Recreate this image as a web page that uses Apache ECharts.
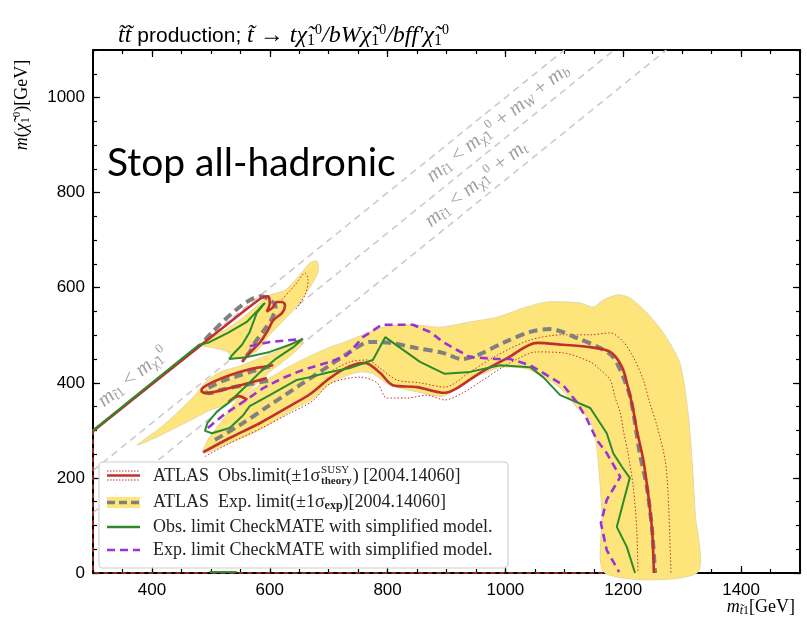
<!DOCTYPE html>
<html>
<head>
<meta charset="utf-8">
<script src="https://cdn.jsdelivr.net/npm/echarts@6/dist/echarts.min.js"></script>
<style>
  html, body { margin: 0; background: #fff; }
  #chart { width: 807px; height: 635px; }
</style>
</head>
<body>
<div id="chart"></div>
<script>
// axis ticks
const xMajor = [400, 600, 800, 1000, 1200, 1400]
const yMajor = [0, 200, 400, 600, 800, 1000]

// kinematic limits: m_stop = m_chi + offset (0, mW+mb, mt)
const kinOffsets = [0, 84.6, 173.1]

// ATLAS expected +-1 sigma band (three pieces)
const expBandMain = [[487,252],[532,273],[583,301],[639,343],[673,366],[702,398],[728,414],[753,423],[775,419],[804,395],[843,383],[894,372],[928,398],[986,431],[1030,431],[1064,414],[1098,383],[1122,347],[1144,320],[1155,265],[1164,126],[1169,0],[1325,0],[1322,126],[1317,231],[1310,337],[1296,442],[1268,505],[1240,547],[1212,578],[1191,585],[1166,574],[1149,559],[1127,568],[1071,570],[1030,557],[986,538],[940,528],[889,517],[843,522],[792,517],[758,501],[728,486],[702,475],[668,456],[634,435],[600,410],[566,381],[541,358],[516,315],[495,280]]
const expBandMid = [[375,269],[414,305],[448,343],[473,374],[490,400],[516,423],[549,435],[583,452],[617,469],[656,494],[651,475],[626,448],[600,423],[575,395],[549,368],[524,353],[499,343],[473,326],[439,305],[405,284]]
const expBandTop = [[482,480],[516,505],[549,532],[580,564],[597,583],[626,595],[651,627],[668,652],[680,656],[682,633],[665,595],[643,557],[621,528],[600,501],[580,469],[566,458],[549,452],[536,452],[529,465],[507,473]]

// ATLAS observed limit
const obsMain = [[487,254],[532,284],[583,315],[634,351],[668,376],[702,410],[736,435],[762,442],[787,421],[809,395],[850,391],[897,379],[918,389],[957,421],[1003,452],[1054,484],[1098,480],[1144,475],[1178,465],[1198,433],[1208,391],[1217,343],[1223,301],[1234,238],[1242,168],[1249,90],[1252,0]]
const obsDiag = [[300,298],[480,476],[585,578],[597,582],[600,568],[595,550],[604,557],[612,570],[621,570],[626,563],[621,547],[606,532],[597,511],[584,486],[566,463],[553,444]]
const obsLoop = [[606,437],[580,432],[561,427],[532,416],[504,402],[487,390],[484,383],[492,378],[510,382],[535,390],[566,400],[595,410]]
const obsPiece = [[530,360],[548,372],[562,364]]
const obsEdge = [[300,300],[300,0],[1170,0]]
// ATLAS observed +-1 sigma theory
const obsUp = [[702,423],[736,444],[765,448],[787,431],[816,406],[855,400],[897,391],[940,423],[986,458],[1042,490],[1098,501],[1144,501],[1178,505],[1200,486],[1217,454],[1234,406],[1245,358],[1257,311],[1271,238],[1276,168],[1279,76],[1281,0]]
const obsUpTop = [[617,570],[643,606],[660,631],[665,616],[660,585],[643,553]]
const obsDown = [[490,245],[532,273],[583,303],[634,336],[673,362],[702,398],[753,412],[782,400],[799,368],[833,368],[867,374],[897,364],[928,379],[957,402],[1008,442],[1054,465],[1098,463],[1144,444],[1161,427],[1178,406],[1186,370],[1195,337],[1200,301],[1208,252],[1217,181],[1223,90],[1225,0]]

// ATLAS expected limit
const expMain = [[507,280],[549,311],[600,353],[651,395],[702,437],[736,465],[770,486],[804,484],[850,473],[894,463],[926,450],[952,458],[996,484],[1042,507],[1076,513],[1122,494],[1161,473],[1183,454],[1200,412],[1212,370],[1220,315],[1228,252],[1240,181],[1249,90],[1254,0]]
const expTop = [[490,490],[585,582],[600,575],[610,560],[604,536],[590,510],[575,485],[566,465],[555,448]]
const expLoop = [[600,434],[570,424],[545,414],[520,404],[500,392],[490,383],[497,378],[520,386],[560,396],[600,405]]

// CheckMATE observed / expected
const cmObs = [[300,300],[480,480],[495,484],[529,505],[561,528],[580,553],[588,564],[592,568],[578,547],[566,507],[553,480],[536,458],[531,450],[561,454],[600,465],[634,480],[656,492],[640,475],[612,452],[584,423],[561,395],[532,360],[510,339],[494,315],[490,299],[502,294],[532,305],[555,332],[566,351],[600,374],[646,406],[668,412],[697,421],[736,431],[775,448],[796,496],[855,444],[897,419],[940,423],[991,437],[1042,433],[1064,412],[1093,374],[1144,347],[1172,294],[1183,252],[1198,223],[1211,200],[1189,97],[1206,55],[1220,0]]
const cmObsLow = [[498,2],[544,2]]
const cmExp = [[495,305],[521,332],[555,360],[589,389],[622,410],[656,427],[702,444],[731,458],[758,496],[790,522],[843,522],[872,507],[894,486],[918,469],[940,454],[986,450],[1008,450],[1042,437],[1076,412],[1098,395],[1122,358],[1139,322],[1155,280],[1172,252],[1195,202],[1172,154],[1162,105],[1172,48],[1193,2]]
const cmExpTop = [[566,477],[600,486],[655,492]]

const RED = '#c0302e'
const GRAY = '#808080'
const GREEN = '#2b8a2b'
const PURPLE = '#9a33d6'
const YELLOW = '#fee57b'

const expBands = [expBandMain, expBandMid, expBandTop]

const chart = echarts.init(document.getElementById('chart'))

const serif = 'Liberation Serif'
const sans = 'Liberation Sans'

const ctx = document.createElement('canvas').getContext('2d')
const tw = (text, font) => { ctx.font = font; return ctx.measureText(text).width }

const tick = (major) => ({ show: true, inside: true, length: major ? 7 : 4, lineStyle: { color: '#000', width: 1.2 } })
const plain = v => String(v)

function xAx (pos, major) {
  const a = {
    type: 'value', position: pos, min: 300, max: 1500,
    axisLine: { show: major, onZero: false, lineStyle: { color: '#000', width: 2 } },
    axisTick: tick(major),
    axisLabel: { show: false },
    splitLine: { show: false }
  }
  if (major) a.axisTick.customValues = xMajor
  else a.interval = 50
  if (major && pos === 'bottom') {
    a.axisLabel = { show: true, customValues: xMajor, formatter: plain, margin: 9, color: '#000', fontFamily: sans, fontSize: 17 }
  }
  return a
}

function yAx (pos, major) {
  const a = {
    type: 'value', position: pos, min: 0, max: 1100,
    axisLine: { show: major, onZero: false, lineStyle: { color: '#000', width: 2 } },
    axisTick: tick(major),
    axisLabel: { show: false },
    splitLine: { show: false }
  }
  if (major) a.axisTick.customValues = yMajor
  else a.interval = 50
  if (major && pos === 'left') {
    a.axisLabel = { show: true, customValues: yMajor, formatter: plain, margin: 8, color: '#000', fontFamily: sans, fontSize: 17 }
  }
  return a
}

const lineSeries = (data, color, width, type, smooth, z) => ({
  type: 'line', data, xAxisIndex: 0, yAxisIndex: 0,
  showSymbol: false, symbol: 'none', smooth: smooth, clip: false, z: z || 3,
  lineStyle: { color, width, type }, silent: true
})

const series = []
kinOffsets.forEach(off => {
  series.push(lineSeries([[300, 300 - off], [1100 + off, 1100]], '#cbcbcb', 1.6, [7, 5], false, 1))
  series[series.length - 1].clip = true
})
series.push({
  type: 'custom', xAxisIndex: 0, yAxisIndex: 0, z: 2, silent: true,
  data: expBands.map(p => p[0]),
  renderItem: (params, api) => ({
    type: 'polygon',
    shape: { points: expBands[params.dataIndex].map(p => api.coord(p)), smooth: 0.25 },
    style: { fill: YELLOW, stroke: '#e4d7a6', lineWidth: 1 }
  })
})
;[obsUp, obsUpTop, obsDown].forEach(d => series.push(lineSeries(d, RED, 1, [1.5, 2], 0.3)))
series.push(lineSeries(obsEdge, RED, 1.5, [5, 4], false))
;[expMain, expTop, expLoop].forEach(d => series.push(lineSeries(d, GRAY, 4, [9, 5], 0.3, 4)))
;[obsMain, obsDiag, obsLoop, obsPiece].forEach(d => series.push(lineSeries(d, RED, 2.6, 'solid', 0.3, 5)))
;[cmObs, cmObsLow].forEach(d => series.push(lineSeries(d, GREEN, 2, 'solid', false, 6)))
;[cmExp, cmExpTop].forEach(d => series.push(lineSeries(d, PURPLE, 2.6, [8, 5], false, 6)))

// rich text helpers
const richMath = (size, color) => {
  const lh = Math.round(size * 1.1)
  return {
    i: { fontFamily: serif, fontStyle: 'italic', fontSize: size, fill: color, lineHeight: lh },
    n: { fontFamily: serif, fontSize: size, fill: color, lineHeight: lh },
    s: { fontFamily: sans, fontSize: size - 3, fill: color, lineHeight: lh },
    sub: { fontFamily: serif, fontSize: Math.round(size * 0.65), fill: color, verticalAlign: 'bottom', lineHeight: Math.round(size * 0.65) },
    subi: { fontFamily: serif, fontStyle: 'italic', fontSize: Math.round(size * 0.65), fill: color, verticalAlign: 'bottom', lineHeight: Math.round(size * 0.65) },
    sup: { fontFamily: serif, fontSize: Math.round(size * 0.6), fill: color, verticalAlign: 'top', lineHeight: Math.round(size * 0.75) }
  }
}

const txt = (x, y, text, rich, align, rotation) => ({
  type: 'text', x, y, rotation: rotation || 0, z: 100, silent: true,
  style: { text, rich, textAlign: align || 'left', align: align || 'left', textVerticalAlign: 'middle', verticalAlign: 'middle' }
})

const chi = '{i|χ̃}{sub|1}{sup|0}'
const stop = '{i|m}{subi|t̃}{sub|1}'
// direction of the diagonal lines on screen (1 GeV in x vs 1 GeV in y)
const slopeRot = Math.atan((523 / 1100) / (707 / 1200))

const legendFont = '18px ' + serif
const l1a = 'ATLAS  Obs.limit(±1σ'
const l1x = 153 + tw(l1a, legendFont)
const l1b = Math.max(tw('SUSY', '11px ' + serif), tw('theory', 'bold 11px ' + serif))

const graphic = [
  // title
  txt(118, 36, '{i|t̃t̃ }{s|production; }{i|t̃ → t}' + chi + '{i|/bW}' + chi + '{i|/bff′}' + chi, richMath(24, '#000')),
  // axis names
  txt(22, 105, '{i|m}{n|(}' + chi + '{n|)[GeV]}', richMath(18, '#000'), 'center', Math.PI / 2),
  txt(795, 607, stop + '{n|[GeV]}', richMath(18, '#000'), 'right'),
  // kinematic labels
  txt(133, 377, stop + '{n| < }{i|m}{sub|χ̃1}{sup|0}', richMath(21, '#a0a0a0'), 'center', slopeRot),
  txt(498, 123, stop + '{n| < }{i|m}{sub|χ̃1}{sup|0}{n| + }{i|m}{subi|W}{n| + }{i|m}{subi|b}', richMath(21, '#a0a0a0'), 'center', slopeRot),
  txt(476, 184, stop + '{n| < }{i|m}{sub|χ̃1}{sup|0}{n| + }{i|m}{subi|t}', richMath(21, '#a0a0a0'), 'center', slopeRot),
  // big label
  { type: 'text', x: 107, y: 163, z: 100, silent: true,
    style: { text: 'Stop all-hadronic', font: '39px Lato', fill: '#000', textVerticalAlign: 'middle', verticalAlign: 'middle' } },
  // legend box
  { type: 'rect', z: 90, silent: true, shape: { x: 99, y: 462, width: 409, height: 106, r: 4 },
    style: { fill: 'rgba(255,255,255,0.85)', stroke: '#cfcfcf', lineWidth: 1.2 } },
  // entry 1
  { type: 'line', z: 95, shape: { x1: 107, y1: 471, x2: 140, y2: 471 }, style: { stroke: RED, lineWidth: 1, lineDash: [1.5, 1.5] } },
  { type: 'line', z: 95, shape: { x1: 107, y1: 475.5, x2: 140, y2: 475.5 }, style: { stroke: RED, lineWidth: 2.6 } },
  { type: 'line', z: 95, shape: { x1: 107, y1: 480, x2: 140, y2: 480 }, style: { stroke: RED, lineWidth: 1, lineDash: [1.5, 1.5] } },
  { type: 'text', z: 100, x: 153, y: 476, style: { text: l1a, font: legendFont, fill: '#222', textVerticalAlign: 'middle', verticalAlign: 'middle' } },
  { type: 'text', z: 100, x: l1x + 1, y: 470, style: { text: 'SUSY', font: '11px ' + serif, fill: '#222', textVerticalAlign: 'middle', verticalAlign: 'middle' } },
  { type: 'text', z: 100, x: l1x + 1, y: 481, style: { text: 'theory', font: 'bold 11px ' + serif, fill: '#222', textVerticalAlign: 'middle', verticalAlign: 'middle' } },
  { type: 'text', z: 100, x: l1x + l1b + 2, y: 476, style: { text: ') [2004.14060]', font: legendFont, fill: '#222', textVerticalAlign: 'middle', verticalAlign: 'middle' } },
  // entry 2
  { type: 'rect', z: 94, shape: { x: 107, y: 497, width: 33, height: 11 }, style: { fill: YELLOW } },
  { type: 'line', z: 95, shape: { x1: 107, y1: 502.5, x2: 140, y2: 502.5 }, style: { stroke: GRAY, lineWidth: 3.5, lineDash: [8, 4] } },
  txt(153, 502, '{n|ATLAS  Exp. limit(±1σ}{bsub|exp}{n|)[2004.14060]}',
    Object.assign(richMath(18, '#222'), { bsub: { fontFamily: serif, fontWeight: 'bold', fontSize: 12, fill: '#222', verticalAlign: 'bottom', lineHeight: 12 } })),
  // entry 3
  { type: 'line', z: 95, shape: { x1: 107, y1: 527, x2: 140, y2: 527 }, style: { stroke: GREEN, lineWidth: 2.6 } },
  { type: 'text', z: 100, x: 153, y: 527, style: { text: 'Obs. limit CheckMATE with simplified model.', font: legendFont, fill: '#222', textVerticalAlign: 'middle', verticalAlign: 'middle' } },
  // entry 4
  { type: 'line', z: 95, shape: { x1: 107, y1: 550, x2: 140, y2: 550 }, style: { stroke: PURPLE, lineWidth: 2.6, lineDash: [8, 5] } },
  { type: 'text', z: 100, x: 153, y: 550, style: { text: 'Exp. limit CheckMATE with simplified model.', font: legendFont, fill: '#222', textVerticalAlign: 'middle', verticalAlign: 'middle' } }
]

chart.setOption({
  animation: false,
  backgroundColor: '#fff',
  grid: { left: 93, right: 7, top: 50, bottom: 62, containLabel: false },
  xAxis: [xAx('bottom', true), xAx('bottom', false), xAx('top', true), xAx('top', false)],
  yAxis: [yAx('left', true), yAx('left', false), yAx('right', true), yAx('right', false)],
  series,
  graphic
})
</script>
</body>
</html>
